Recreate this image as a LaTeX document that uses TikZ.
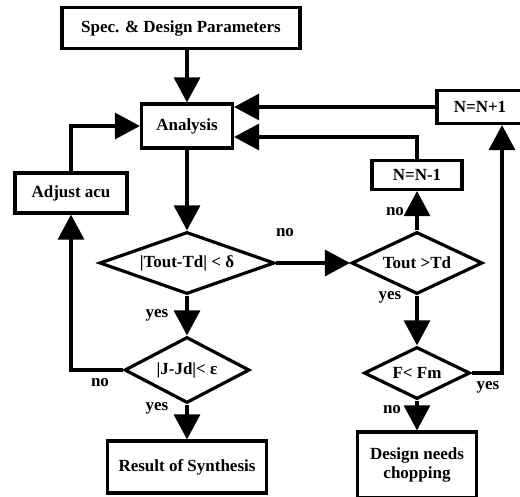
\documentclass[tikz,border=0pt]{standalone}
\usepackage{fontspec}
\setmainfont{Liberation Serif}
\usetikzlibrary {shapes.geometric}
\usetikzlibrary {arrows.meta}

\begin{document}
\begin{tikzpicture}[x=1pt, y=1pt, line width=3.2pt,
  font=\bfseries\fontsize{17}{19}\selectfont,
  block/.style={rectangle, draw, inner sep=0pt},
  decision/.style={diamond, draw, inner sep=0pt},
  flow/.style={-{Triangle[width=26pt,length=25pt]}},
  lbl/.style={inner sep=0pt}]
\useasboundingbox (0,0) rectangle (520,-497);

\node [block, minimum width=238pt, minimum height=41pt] (spec) at (181,-28) {Spec. \& Design Parameters};
\node [block, minimum width=91pt, minimum height=44pt] (analysis) at (187,-126) {Analysis};
\draw [flow] (spec.south -| analysis.north) to (analysis.north);

%checks
\node [decision, aspect=2.82, minimum width=175pt, minimum height=62pt] (tout) at (187,-263) {|Tout-Td| < δ};
\draw [flow] (analysis) to (tout);

\node [decision, aspect=1.89, minimum width=125pt, minimum height=66pt] (jjd) at (187,-370) {|J-Jd|< ε};
\draw [flow] (tout) to (jjd);

\node [block, minimum width=159pt, minimum height=52pt] (result) at (187,-467) {Result of Synthesis};
\draw [flow] (jjd) to (result);

%adjust loop
\node [block, minimum width=112pt, minimum height=40pt] (adjust) at (71,-193) {Adjust acu};
\draw [flow] (jjd.west) -| (adjust.south);
\draw [flow] (adjust.north) |- (analysis.west);

%right branch
\node [decision, aspect=2.11, minimum width=131pt, minimum height=62pt] (tgt) at (417,-263) {Tout >Td};
\draw [flow] (tout.east) to (tgt.west);

\node [block, minimum width=90pt, minimum height=29pt] (nminus) at (417,-175) {N=N-1};
\draw [flow] (tgt) to (nminus);
\draw [flow] (nminus.north) |- ([yshift=-11pt]analysis.east);

\node [decision, aspect=2.04, minimum width=106pt, minimum height=52pt] (ffm) at (417,-373) {F< Fm};
\draw [flow] (tgt) to (ffm);

\node [block, minimum width=86pt, minimum height=33pt] (nplus) at (480,-107) {N=N+1};
\draw [flow] (nplus.west) to (nplus.west -| analysis.east);
\draw [flow] (ffm.east) -| ([xshift=22pt]nplus.south);

\node [block, minimum width=119pt, minimum height=66pt, align=center] (chop) at (417,-465) {Design needs\\chopping};
\draw [flow] (ffm) to (chop);

%labels
\node [lbl] (no_tout) at (285,-233) {no};
\node [lbl] (yes_tout) at (157,-315) {yes};
\node [lbl] (no_jjd) at (100,-383) {no};
\node [lbl] (yes_jjd) at (157,-408) {yes};
\node [lbl] (no_tgt) at (395,-212) {no};
\node [lbl] (yes_tgt) at (390,-297) {yes};
\node [lbl] (yes_ffm) at (488,-387) {yes};
\node [lbl] (no_ffm) at (392,-410) {no};

\end{tikzpicture}
\end{document}
